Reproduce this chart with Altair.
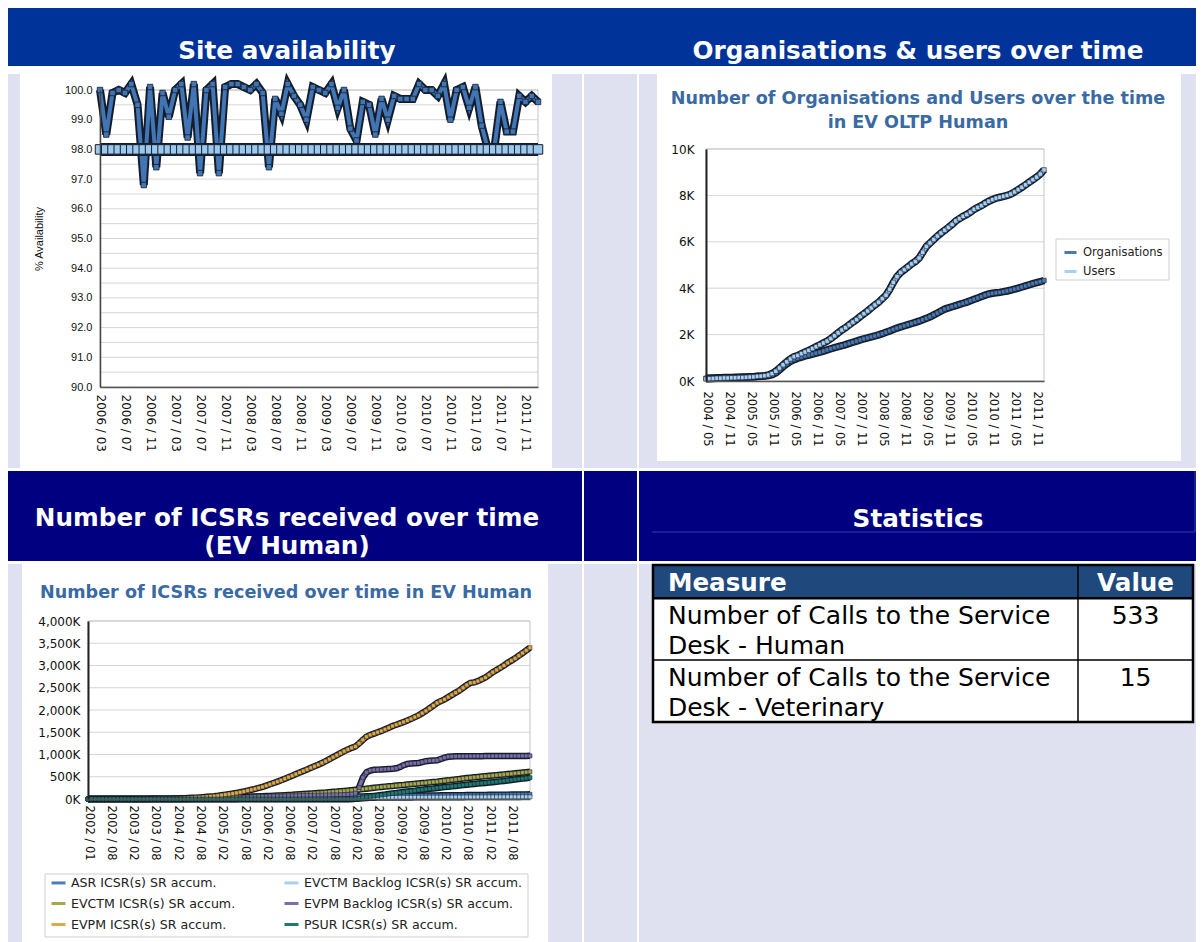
import textwrap
import altair as alt
import pandas as pd

# ---------------------------------------------------------------- data
# Site availability, monthly from 2006 / 03
AVAILABILITY = [
    100.0, 98.5, 99.9, 100.0, 99.9, 100.2, 99.5, 96.8, 100.1, 97.4,
    99.9, 99.1, 100.0, 100.2, 98.4, 100.2, 97.2, 100.0, 100.2, 97.2,
    100.1, 100.2, 100.2, 100.1, 100.0, 100.2, 99.9, 97.4, 99.7, 99.2,
    100.2, 99.8, 99.5, 99.0, 100.1, 100.0, 99.9, 100.2, 99.4, 100.0,
    98.7, 98.3, 99.6, 99.5, 98.5, 99.7, 99.0, 99.8, 99.7, 99.7,
    99.7, 100.2, 100.0, 100.0, 99.8, 100.2, 99.0, 100.0, 100.1, 99.4,
    100.1, 98.8, 98.0, 98.0, 99.6, 98.6, 98.6, 99.8, 99.6, 99.8, 99.6,
]
TARGET = 98.0

# Organisations and users, monthly from 2004 / 05
USERS = [
    90, 100, 110, 120, 120, 130, 130, 140,
    140, 150, 150, 160, 170, 180, 200, 210, 230, 260, 320, 420,
    560, 700, 830, 950, 1050, 1100, 1180, 1250, 1320, 1400, 1480, 1560,
    1640, 1720, 1830, 1950, 2080, 2200, 2300, 2420, 2540, 2650, 2780, 2900,
    3020, 3150, 3280, 3400, 3550, 3700, 3950, 4250, 4500, 4680, 4800, 4920,
    5050, 5150, 5300, 5550, 5800, 5950, 6100, 6250, 6380, 6500, 6620, 6750,
    6900, 7000, 7100, 7180, 7280, 7400, 7480, 7560, 7660, 7750, 7820, 7880,
    7920, 7960, 8000, 8060, 8150, 8250, 8350, 8460, 8570, 8680, 8790, 8920,
    9100,
]
ORGANISATIONS = [
    120, 130, 130, 140, 140, 150, 150, 150,
    160, 160, 170, 170, 180, 180, 190, 200, 210, 230, 270, 350,
    480, 620, 740, 850, 920, 980, 1030, 1080, 1120, 1160, 1200, 1240,
    1290, 1340, 1390, 1440, 1480, 1520, 1570, 1620, 1670, 1720, 1770, 1820,
    1860, 1900, 1940, 1990, 2040, 2100, 2160, 2220, 2280, 2330, 2380, 2430,
    2480, 2530, 2580, 2640, 2700, 2770, 2850, 2930, 3020, 3100, 3150, 3200,
    3250, 3300, 3350, 3400, 3460, 3520, 3580, 3640, 3700, 3750, 3780, 3800,
    3820, 3850, 3880, 3920, 3960, 4000, 4050, 4100, 4150, 4200, 4240, 4280,
    4330,
]

# ICSRs (thousands): 2002 / 01, then monthly 2002 / 03 .. 2012 / 01
ASR = [
    0, 0, 0, 0, 0, 0, 0, 0, 0, 0, 0,
    0, 0, 0, 0, 0, 0, 0, 0, 0, 0, 0, 0,
    0, 0, 0, 0, 0, 0, 0, 0, 0, 0, 0, 0,
    0, 0, 0, 0, 0, 0, 0, 0, 0, 0, 0, 0,
    0, 0, 0, 0, 0, 0, 0, 0, 0, 0, 0, 0,
    0, 0, 0, 0, 0, 0, 0, 0, 0, 0, 0, 0,
    35, 48, 55, 58, 60, 62, 63, 64, 65, 66, 67, 68,
    69, 70, 72, 72, 73, 75, 75, 76, 78, 78, 79, 81,
    82, 83, 84, 85, 86, 86, 87, 88, 89, 90, 90, 91,
    92, 93, 93, 95, 96, 96, 98, 99, 99, 101, 102, 103,
    104,
]
EVCTM_BACKLOG = [
    0, 0, 0, 0, 0, 0, 0, 0, 0, 0, 0,
    0, 0, 0, 0, 0, 0, 0, 0, 0, 0, 0, 0,
    0, 0, 0, 0, 0, 0, 0, 0, 0, 0, 0, 0,
    0, 0, 0, 0, 0, 0, 0, 0, 0, 0, 0, 0,
    0, 0, 0, 0, 0, 0, 0, 0, 0, 0, 0, 0,
    0, 0, 0, 0, 0, 0, 0, 0, 0, 0, 0, 0,
    0, 4, 10, 18, 24, 28, 30, 31, 32, 33, 33, 34,
    34, 35, 35, 36, 36, 37, 37, 38, 38, 39, 39, 40,
    40, 40, 41, 41, 42, 42, 42, 43, 43, 43, 44, 44,
    44, 45, 45, 45, 46, 46, 46, 47, 47, 47, 48, 48,
    48,
]
EVCTM = [
    0, 0, 0, 0, 0, 0, 0, 0, 0, 0, 0,
    0, 0, 0, 0, 0, 0, 0, 0, 0, 0, 0, 0,
    0, 0, 0, 0, 2, 4, 7, 9, 11, 13, 16, 19,
    22, 25, 29, 31, 34, 38, 41, 43, 47, 50, 54, 58,
    62, 66, 69, 74, 78, 81, 86, 90, 94, 100, 105, 110,
    116, 121, 128, 134, 140, 146, 154, 161, 167, 175, 182, 189,
    198, 206, 213, 222, 232, 241, 252, 261, 270, 278, 286, 293,
    302, 310, 317, 326, 334, 341, 350, 358, 365, 374, 382, 389,
    400, 410, 419, 430, 440, 449, 460, 470, 479, 488, 496, 505,
    512, 520, 529, 536, 544, 553, 560, 568, 577, 585, 594, 603,
    612,
]
EVPM_BACKLOG = [
    0, 0, 0, 0, 0, 0, 0, 0, 0, 0, 0,
    0, 0, 0, 0, 0, 0, 0, 0, 0, 0, 0, 0,
    0, 0, 0, 0, 0, 0, 0, 0, 0, 0, 0, 0,
    0, 0, 0, 0, 0, 0, 20, 38, 44, 48, 50, 52,
    55, 57, 60, 62, 63, 66, 68, 70, 71, 74, 76, 78,
    80, 81, 84, 86, 87, 90, 91, 94, 95, 98, 100, 104,
    110, 130, 260, 480, 600, 640, 655, 660, 665, 670, 675, 680,
    690, 720, 760, 790, 800, 805, 810, 830, 850, 860, 865, 870,
    900, 930, 950, 955, 958, 960, 960, 961, 962, 962, 963, 963,
    964, 964, 965, 965, 966, 966, 967, 967, 968, 968, 969, 969,
    970,
]
EVPM = [
    0, 0, 0, 0, 0, 0, 0, 0, 0, 0, 0,
    0, 0, 1, 1, 2, 2, 3, 4, 5, 6, 7, 8,
    10, 12, 15, 18, 22, 26, 31, 36, 42, 48, 55, 62,
    72, 85, 98, 110, 122, 137, 152, 168, 188, 208, 228, 250,
    272, 300, 330, 360, 390, 420, 455, 490, 525, 560, 595, 630,
    665, 700, 735, 770, 810, 850, 895, 940, 985, 1030, 1075, 1115,
    1150, 1180, 1250, 1330, 1400, 1440, 1470, 1500, 1530, 1565, 1600, 1640,
    1670, 1700, 1730, 1765, 1800, 1840, 1880, 1930, 1980, 2040, 2100, 2160,
    2200, 2240, 2290, 2340, 2390, 2440, 2500, 2560, 2610, 2620, 2650, 2690,
    2730, 2790, 2850, 2900, 2950, 3000, 3060, 3110, 3160, 3220, 3280, 3340,
    3400,
]
PSUR = [
    0, 0, 0, 0, 0, 0, 0, 0, 0, 0, 0,
    0, 0, 0, 0, 0, 0, 0, 0, 0, 0, 0, 0,
    0, 0, 0, 0, 0, 0, 0, 0, 0, 0, 0, 0,
    0, 0, 0, 0, 0, 0, 0, 0, 0, 0, 0, 0,
    0, 0, 0, 0, 0, 0, 0, 0, 0, 0, 0, 0,
    0, 0, 0, 0, 0, 0, 0, 0, 0, 0, 0, 0,
    0, 5, 15, 30, 45, 60, 70, 80, 90, 100, 112, 125,
    135, 148, 158, 168, 178, 188, 200, 210, 220, 230, 238, 248,
    258, 268, 276, 284, 292, 302, 312, 322, 330, 338, 346, 354,
    362, 370, 378, 386, 396, 406, 416, 428, 438, 448, 458, 468,
    480,
]
ICSR_SERIES = [
    "ASR ICSR(s) SR accum.", "EVCTM Backlog ICSR(s) SR accum.",
    "EVCTM ICSR(s) SR accum.", "EVPM Backlog ICSR(s) SR accum.",
    "EVPM ICSR(s) SR accum.", "PSUR ICSR(s) SR accum.",
]
ICSR_VALUES = [ASR, EVCTM_BACKLOG, EVCTM, EVPM_BACKLOG, EVPM, PSUR]
ICSR_COLORS = ["#4A7EBB", "#A8D0F0", "#A6A84A", "#7B6EA8", "#E0A848", "#1F7A70"]

# Statistics table
HEADERS = ["Measure", "Value"]
MEASURES = ["Number of Calls to the Service Desk - Human",
            "Number of Calls to the Service Desk - Veterinary"]
VALUES = [533, 15]


def month_labels(start, n):
    return [f"{p.year} / {p.month:02d}" for p in pd.period_range(start=start, periods=n, freq="M")]


AVAIL_MONTHS = month_labels("2006-03", len(AVAILABILITY))
ORG_MONTHS = month_labels("2004-05", len(USERS))
ICSR_MONTHS = ["2002 / 01"] + month_labels("2002-03", len(ASR) - 1)

# ---------------------------------------------------------------- styles
ARIAL = "Liberation Sans"
VERD = "DejaVu Sans"
LAV = "#DFE1F1"
BAND1 = "#003399"
BAND2 = "#000080"
TITLE_BLUE = "#3A6AA3"
DARK = "#141d2b"
GRID = "#d6d6d6"
HFONT = 24.7


def deco_rect(x1, x2, y1, y2, **mark):
    return alt.Chart(alt.Data(values=[{}])).mark_rect(**mark).encode(
        x=alt.value(x1), x2=alt.value(x2), y=alt.value(y1), y2=alt.value(y2))


def deco_text(text, x, y, **mark):
    return alt.Chart(alt.Data(values=[{}])).mark_text(**mark).encode(
        x=alt.value(x), y=alt.value(y), text=alt.value(text))


def deco_rule(x1, x2, y1, y2, **mark):
    return alt.Chart(alt.Data(values=[{}])).mark_rule(**mark).encode(
        x=alt.value(x1), x2=alt.value(x2), y=alt.value(y1), y2=alt.value(y2))


def header_text(text, x, y):
    return deco_text(text, x, y, font=VERD, fontSize=HFONT, fontWeight="bold",
                     color="white", align="center", baseline="alphabetic")


def chart_title(text, x, y):
    return deco_text(text, x, y, font=VERD, fontSize=17.6, fontWeight="bold",
                     color=TITLE_BLUE, align="center", baseline="alphabetic")


def blank(w, h, color):
    return deco_rect(0, w, 0, h, color=color).properties(width=w, height=h)


def x_axis(values, offset, pad, size=11.5):
    return alt.Axis(values=values, title=None, labelAngle=90, labelAlign="left",
                    labelBaseline="middle", labelPadding=pad, labelFont=VERD,
                    labelFontSize=size, labelColor="#111", ticks=False, offset=offset,
                    domainColor="#555", domainWidth=1.5, grid=False, zindex=1)


# ---------------------------------------------------------------- site availability
# cell 574 x 394, plot area x 92..530, y 16..313
C1W, C1H = 574, 394
P1 = (92, 530, 16, 313)
avail_df = pd.DataFrame({"month": AVAIL_MONTHS, "value": AVAILABILITY})
target_df = pd.DataFrame({"month": AVAIL_MONTHS, "value": [TARGET] * len(AVAIL_MONTHS)})
grid1_df = pd.DataFrame({"value": [90 + 0.5 * i for i in range(21)]})
x1 = alt.X("month:O", scale=alt.Scale(type="point", domain=AVAIL_MONTHS, range=[P1[0], P1[1]], padding=0),
           axis=x_axis(AVAIL_MONTHS[::4], P1[3] - C1H, 7, 12))
y1 = alt.Y("value:Q", scale=alt.Scale(domain=[90, 100], range=[P1[3], P1[2]], nice=False, zero=False),
           axis=alt.Axis(values=list(range(90, 101)), format=".1f", title="% Availability",
                         titleFont=ARIAL, titleFontSize=11, titleFontWeight="normal", titleColor="#111",
                         titleX=-56, titleY=(P1[2] + P1[3]) / 2, labelFont=ARIAL, labelFontSize=11,
                         labelColor="#111", labelPadding=8, ticks=False, offset=-P1[0],
                         domainColor="#444", domainWidth=1.5, grid=False, zindex=1))

site = alt.layer(
    deco_rect(0, C1W, 0, C1H, color=LAV),
    deco_rect(12, 544, 0, C1H, color="white"),
    alt.Chart(grid1_df).mark_rule(color=GRID, strokeWidth=1).encode(
        y=y1, x=alt.value(P1[0]), x2=alt.value(P1[1])),
    deco_rect(P1[0], P1[1], P1[2], P1[3], fillOpacity=0, stroke="#c4c4c4", strokeWidth=1),
    alt.Chart(avail_df).mark_line(color=DARK, strokeWidth=8).encode(x=x1, y=y1),
    alt.Chart(avail_df).mark_line(color="#4275B4", strokeWidth=4).encode(x=x1, y=y1),
    alt.Chart(avail_df).mark_square(size=30, fill="#4275B4", stroke=DARK,
                                    strokeWidth=0.8, filled=True, opacity=1).encode(x=x1, y=y1),
    alt.Chart(target_df).mark_line(color=DARK, strokeWidth=13).encode(x=x1, y=y1),
    alt.Chart(target_df).mark_square(size=90, fill="#9DC8EE", stroke=DARK,
                                     strokeWidth=1, filled=True, opacity=1).encode(x=x1, y=y1),
).properties(width=C1W, height=C1H)

# ---------------------------------------------------------------- organisations & users
# cell 557 x 394, plot area x 67..405, y 75..307
C2W, C2H = 557, 394
P2 = (67, 405, 75, 307)
org_df = pd.concat([
    pd.DataFrame({"month": ORG_MONTHS, "series": "Organisations", "value": ORGANISATIONS}),
    pd.DataFrame({"month": ORG_MONTHS, "series": "Users", "value": USERS}),
])
grid2_df = pd.DataFrame({"value": list(range(0, 10001, 2000))})
x2 = alt.X("month:O", scale=alt.Scale(type="point", domain=ORG_MONTHS, range=[P2[0], P2[1]], padding=0),
           axis=x_axis(ORG_MONTHS[::6], P2[3] - C2H, 10))
y2 = alt.Y("value:Q", scale=alt.Scale(domain=[0, 10000], range=[P2[3], P2[2]], nice=False),
           axis=alt.Axis(values=list(range(0, 10001, 2000)), labelExpr="datum.value / 1000 + 'K'",
                         title=None, labelFont=VERD, labelFontSize=12, labelColor="#111",
                         labelPadding=12, ticks=False, offset=-P2[0], domainColor="#222",
                         domainWidth=2, grid=False, zindex=1))
cs2 = alt.Scale(domain=["Organisations", "Users"], range=["#4A78B0", "#A6D0F4"])
c2 = alt.Color("series:N", scale=cs2, legend=alt.Legend(
    title=None, orient="none", legendX=424, legendY=171, symbolType="stroke",
    symbolSize=144, symbolStrokeWidth=3, labelFont=VERD, labelFontSize=11.5,
    labelColor="#222", rowPadding=5, padding=0, labelOffset=5))

org = alt.layer(
    deco_rect(0, C2W, 0, C2H, color=LAV),
    deco_rect(18, 542, 0, 387, color="white"),
    chart_title("Number of Organisations and Users over the time", 279, 30),
    chart_title("in EV OLTP Human", 279, 54),
    alt.Chart(grid2_df).mark_rule(color=GRID, strokeWidth=1).encode(
        y=y2, x=alt.value(P2[0]), x2=alt.value(P2[1])),
    deco_rect(P2[0], P2[1], P2[2], P2[3], fillOpacity=0, stroke="#c4c4c4", strokeWidth=1),
    alt.Chart(org_df).mark_line(color=DARK, strokeWidth=7.5).encode(x=x2, y=y2, detail="series:N"),
    alt.Chart(org_df).mark_line(strokeWidth=4).encode(x=x2, y=y2, color=c2),
    alt.Chart(org_df).mark_square(size=20, stroke=DARK, strokeWidth=0.6, filled=True,
                                  opacity=1).encode(x=x2, y=y2, color=c2),
    deco_rect(417, 530, 165, 206, color="white", stroke="#cfcfcf", strokeWidth=1),
).properties(width=C2W, height=C2H)

# ---------------------------------------------------------------- ICSRs
# cell 574 x 378, plot area x 80..522, y 57..235
C3W, C3H = 574, 378
P3 = (80, 522, 57, 235)
icsr_df = pd.concat([
    pd.DataFrame({"month": ICSR_MONTHS, "series": s, "value": v})
    for s, v in zip(ICSR_SERIES, ICSR_VALUES)
])
grid3_df = pd.DataFrame({"value": list(range(0, 4001, 500))})
x3 = alt.X("month:O", scale=alt.Scale(type="point", domain=ICSR_MONTHS, range=[P3[0], P3[1]], padding=0),
           axis=x_axis(ICSR_MONTHS[::6], P3[3] - C3H, 6))
y3 = alt.Y("value:Q", scale=alt.Scale(domain=[0, 4000], range=[P3[3], P3[2]], nice=False),
           axis=alt.Axis(values=list(range(0, 4001, 500)), labelExpr="format(datum.value, ',') + 'K'",
                         title=None, labelFont=VERD, labelFontSize=12, labelColor="#111",
                         labelPadding=8, ticks=False, offset=-P3[0], domainColor="#222",
                         domainWidth=2, grid=False, zindex=1))
cs3 = alt.Scale(domain=ICSR_SERIES, range=ICSR_COLORS)
c3 = alt.Color("series:N", scale=cs3, legend=alt.Legend(
    title=None, orient="none", legendX=42, legendY=310, direction="horizontal", columns=2,
    columnPadding=42, rowPadding=5, symbolType="stroke", symbolSize=196, symbolStrokeWidth=3,
    labelFont=VERD, labelFontSize=12.6, labelColor="#222", labelLimit=400,
    labelOffset=4, padding=0))

icsr = alt.layer(
    deco_rect(0, C3W, 0, C3H, color=LAV),
    deco_rect(14, 540, 0, C3H, color="white"),
    chart_title("Number of ICSRs received over time in EV Human", 278, 34),
    alt.Chart(grid3_df).mark_rule(color=GRID, strokeWidth=1).encode(
        y=y3, x=alt.value(P3[0]), x2=alt.value(P3[1])),
    deco_rect(P3[0], P3[1], P3[2], P3[3], fillOpacity=0, stroke="#c4c4c4", strokeWidth=1),
    alt.Chart(icsr_df).mark_line(color=DARK, strokeWidth=6.5).encode(x=x3, y=y3, detail="series:N"),
    alt.Chart(icsr_df).mark_line(strokeWidth=3.5).encode(x=x3, y=y3, color=c3),
    alt.Chart(icsr_df).mark_square(size=16, stroke=DARK, strokeWidth=0.5, filled=True,
                                   opacity=1).encode(x=x3, y=y3, color=c3),
    deco_rect(37, 520, 310, 373, color="white", stroke="#cfcfcf", strokeWidth=1),
).properties(width=C3W, height=C3H)

# ---------------------------------------------------------------- statistics table
# cell 557 x 378, table x 14..554, y 1..158
C4W, C4H = 557, 378
P4 = (14, 554, 1, 158)
HEAD_U, ROW_U = 1.07, 2.0
COL_SPLIT, COL_END = 3.7, 4.7
TOTAL_U = HEAD_U + ROW_U * len(MEASURES)
head_cells = pd.DataFrame([dict(x0=0, x1=COL_SPLIT, y0=0, y1=HEAD_U),
                           dict(x0=COL_SPLIT, x1=COL_END, y0=0, y1=HEAD_U)])
body_cells, rows = [], []
for i, (m, v) in enumerate(zip(MEASURES, VALUES)):
    top = HEAD_U + ROW_U * i
    body_cells.append(dict(x0=0, x1=COL_SPLIT, y0=top, y1=top + ROW_U))
    body_cells.append(dict(x0=COL_SPLIT, x1=COL_END, y0=top, y1=top + ROW_U))
    rows.append(dict(tx=0.13, vx=(COL_SPLIT + COL_END) / 2, ty=top + 0.84,
                     measure="\n".join(textwrap.wrap(m, 30)), value=str(v)))
body_cells = pd.DataFrame(body_cells)
rows_df = pd.DataFrame(rows)
head_m = pd.DataFrame([dict(tx=0.13, ty=0.84, label=HEADERS[0])])
head_v = pd.DataFrame([dict(tx=(COL_SPLIT + COL_END) / 2, ty=0.84, label=HEADERS[1])])
line_df = pd.DataFrame([dict(ty=HEAD_U)])
xs4 = alt.Scale(domain=[0, COL_END], range=[P4[0], P4[1]], nice=False, zero=False)
ys4 = alt.Scale(domain=[0, TOTAL_U], range=[P4[2], P4[3]], nice=False, zero=False)
tx = alt.X("tx:Q", scale=xs4, axis=None)
ty = alt.Y("ty:Q", scale=ys4, axis=None)
cell_enc = dict(x=alt.X("x0:Q", scale=xs4, axis=None), x2="x1:Q",
                y=alt.Y("y0:Q", scale=ys4, axis=None), y2="y1:Q")

table = alt.layer(
    deco_rect(0, C4W, 0, C4H, color=LAV),
    alt.Chart(head_cells).mark_rect(fill="#1F497D", stroke="black", strokeWidth=1.2).encode(**cell_enc),
    alt.Chart(body_cells).mark_rect(fill="white", stroke="black", strokeWidth=1.2).encode(**cell_enc),
    alt.Chart(line_df).mark_rule(color="black", strokeWidth=2.5).encode(
        y=ty, x=alt.value(P4[0]), x2=alt.value(P4[1])),
    deco_rect(P4[0], P4[1], P4[2], P4[3], fillOpacity=0, stroke="black", strokeWidth=2.5),
    alt.Chart(head_m).mark_text(font=VERD, fontSize=24.6, fontWeight="bold", color="white",
                                align="left", baseline="alphabetic").encode(x=tx, y=ty, text="label:N"),
    alt.Chart(head_v).mark_text(font=VERD, fontSize=24.6, fontWeight="bold", color="white",
                                align="center", baseline="alphabetic").encode(x=tx, y=ty, text="label:N"),
    alt.Chart(rows_df).mark_text(font=VERD, fontSize=25, color="black", align="left",
                                 baseline="alphabetic", lineBreak="\n", lineHeight=30).encode(
        x=tx, y=ty, text="measure:N"),
    alt.Chart(rows_df).mark_text(font=VERD, fontSize=25, color="black", align="center",
                                 baseline="alphabetic").encode(
        x=alt.X("vx:Q", scale=xs4, axis=None), y=ty, text="value:N"),
).properties(width=C4W, height=C4H)

# ---------------------------------------------------------------- header bands
head1 = alt.layer(
    deco_rect(0, 1188, 0, 58, color=BAND1),
    header_text("Site availability", 279, 51),
    header_text("Organisations & users over time", 910, 51),
).properties(width=1188, height=58)

head2_left = alt.layer(
    deco_rect(0, 574, 0, 90, color=BAND2),
    header_text("Number of ICSRs received over time", 279, 55),
    header_text("(EV Human)", 279, 83),
).properties(width=574, height=90)
head2_right = alt.layer(
    deco_rect(0, 557, 0, 90, color=BAND2),
    header_text("Statistics", 279, 56),
    deco_rule(13, 556, 61, 61, color="#3b3ba8", strokeWidth=1),
    deco_rule(556, 556, 0, 61, color="#3b3ba8", strokeWidth=1),
).properties(width=557, height=90)

row2 = alt.hconcat(site, blank(53, C1H, LAV), org, spacing=2).resolve_scale(color="independent")
row3 = alt.hconcat(head2_left, blank(53, 90, BAND2), head2_right, spacing=2)
row4 = alt.hconcat(icsr, blank(53, C3H, LAV), table, spacing=2).resolve_scale(color="independent")

chart = alt.vconcat(head1, row2, row3, row4, spacing=2).resolve_scale(
    color="independent"
).properties(background="white", padding=0).configure_view(strokeWidth=0)

chart.save("out.html", embed_options={"renderer": "svg", "actions": False})
